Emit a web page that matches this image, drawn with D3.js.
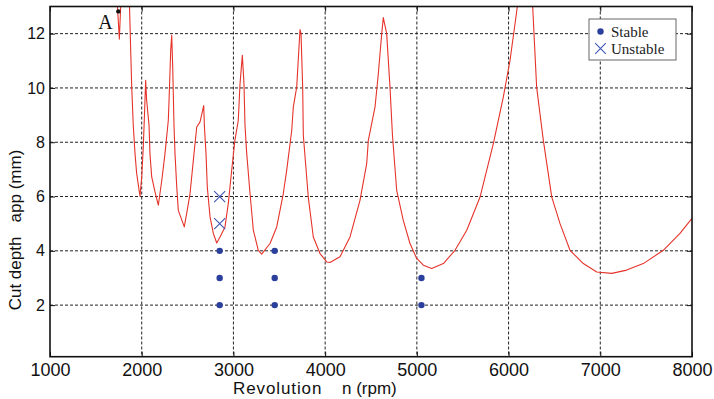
<!DOCTYPE html>
<html>
<head>
<meta charset="utf-8">
<script src="https://cdn.jsdelivr.net/npm/d3@7"></script>
<style>
body { margin: 0; background: #fff; }
svg { display: block; }
</style>
</head>
<body>
<svg id="chart"></svg>
<script>
// stability lobe curve (rpm, cut depth mm)
var lobeRpm = [1725, 1756, 1778, 1862, 1880, 1891, 1908, 1927, 1945, 1981,
    2000, 2017, 2028, 2043, 2054, 2080, 2090, 2109, 2145, 2181,
    2219, 2254, 2290, 2298, 2316, 2327, 2338, 2352, 2363, 2382,
    2399, 2464, 2490, 2527, 2563, 2600, 2636, 2676, 2683, 2701,
    2715, 2745, 2781, 2818, 2854, 2908, 2944, 2981, 3017, 3053,
    3072, 3097, 3115, 3126, 3145, 3181, 3217, 3271, 3308, 3399,
    3472, 3544, 3581, 3636, 3653, 3690, 3726, 3737, 3755, 3762,
    3816, 3871, 3944, 4017, 4053, 4162, 4271, 4380, 4453, 4471,
    4544, 4580, 4617, 4634, 4671, 4707, 4734, 4780, 4852, 4925,
    4998, 5071, 5162, 5289, 5416, 5544, 5689, 5834, 5943, 6016,
    6095, 6170, 6263, 6306, 6379, 6471, 6561, 6670, 6815, 6961,
    7125, 7288, 7469, 7687, 7869, 8000];
var lobeDepth = [13.6, 11.8, 13.6, 13.6, 11.38, 10.03, 8.62, 7.58, 6.85, 6.01,
    6.72, 7.82, 8.81, 10.28, 9.54, 8.62, 7.58, 6.72, 6.17, 5.68,
    6.60, 7.58, 8.81, 9.54, 11.38, 11.94, 10.77, 8.62, 7.58, 6.35,
    5.49, 4.88, 5.37, 6.11, 7.34, 8.56, 8.75, 9.35, 8.62, 7.58,
    6.35, 5.25, 4.64, 4.29, 4.51, 4.88, 5.74, 6.97, 8.09, 8.81,
    10.16, 11.2, 10.16, 8.62, 7.58, 6.11, 4.76, 4.02, 3.88, 4.27,
    4.88, 6.11, 6.97, 8.44, 9.30, 10.03, 12.15, 12.01, 10.03, 8.26,
    5.98, 4.51, 3.90, 3.59, 3.57, 3.78, 4.51, 5.86, 7.21, 8.07,
    9.30, 10.53, 12.0, 12.59, 12.0, 10.03, 8.26, 6.23, 5.12, 4.27,
    3.72, 3.47, 3.35, 3.53, 4.02, 4.76, 5.98, 7.95, 9.67, 11.02,
    12.98, 14.5, 12.98, 10.03, 8.07, 5.98, 5.0, 4.02, 3.53, 3.22,
    3.17, 3.29, 3.53, 4.02, 4.64, 5.2];

var stableRpm = [2850, 2850, 2850, 3450, 3450, 3450, 5050, 5050];
var stableDepth = [2, 3, 4, 2, 3, 4, 2, 3];
var unstableRpm = [2850, 2850];
var unstableDepth = [5, 6];

var pointA = [1745, 12.82];

var xTicks = [1000, 2000, 3000, 4000, 5000, 6000, 7000, 8000];
var yTicks = [2, 4, 6, 8, 10, 12];
var xDomain = [1000, 8000];
var yDomain = [0.1, 13];

var svgWidth = 714,
    svgHeight = 399,
    plotLeft = 50,
    plotRight = 692,
    plotTop = 6.5,
    plotBottom = 356.7,
    plotW = plotRight - plotLeft,
    plotH = plotBottom - plotTop;

var sansFont = '"Liberation Sans", Arial, Helvetica, sans-serif';
var serifFont = '"Liberation Serif", "Times New Roman", serif';

var svg = d3.select('svg#chart')
    .attr('width', svgWidth)
    .attr('height', svgHeight);

var x = d3.scaleLinear().domain(xDomain).range([0, plotW]);
var y = d3.scaleLinear().domain(yDomain).range([plotH, 0]);

var plot = svg.append('g').attr('transform', 'translate(' + plotLeft + ',' + plotTop + ')');

svg.append('clipPath').attr('id', 'plotClip')
    .append('rect')
    .attr('width', plotW)
    .attr('height', plotH);

// dashed grid
plot.append('g').selectAll('line')
    .data(xTicks.slice(1, -1))
    .enter().append('line')
    .attr('x1', function (d) { return x(d); })
    .attr('x2', function (d) { return x(d); })
    .attr('y1', 0)
    .attr('y2', plotH)
    .attr('stroke', '#222')
    .attr('stroke-width', 1)
    .attr('stroke-dasharray', '3,2');

plot.append('g').selectAll('line')
    .data(yTicks)
    .enter().append('line')
    .attr('x1', 0)
    .attr('x2', plotW)
    .attr('y1', function (d) { return y(d); })
    .attr('y2', function (d) { return y(d); })
    .attr('stroke', '#222')
    .attr('stroke-width', 1)
    .attr('stroke-dasharray', '3,2');

// lobe curve
var lobePoints = lobeRpm.map(function (r, i) { return [r, lobeDepth[i]]; });
var line = d3.line()
    .x(function (d) { return x(d[0]); })
    .y(function (d) { return y(d[1]); });

plot.append('path')
    .datum(lobePoints)
    .attr('clip-path', 'url(#plotClip)')
    .attr('d', line)
    .attr('fill', 'none')
    .attr('stroke', '#e5332a')
    .attr('stroke-width', 1.1)
    .attr('stroke-linejoin', 'round');

// test points
plot.append('g').selectAll('circle')
    .data(stableRpm)
    .enter().append('circle')
    .attr('cx', function (d) { return x(d); })
    .attr('cy', function (d, i) { return y(stableDepth[i]); })
    .attr('r', 3.2)
    .attr('fill', '#2b3f9c');

var xMark = 5.5;
unstableRpm.forEach(function (r, i) {
    drawCross(plot, x(r), y(unstableDepth[i]), xMark);
});

function drawCross(g, cx, cy, s) {
    g.append('path')
        .attr('d', 'M' + (cx - s) + ',' + (cy - s) + 'L' + (cx + s) + ',' + (cy + s) +
            'M' + (cx - s) + ',' + (cy + s) + 'L' + (cx + s) + ',' + (cy - s))
        .attr('stroke', '#3f55b5')
        .attr('stroke-width', 1.1)
        .attr('fill', 'none');
}

// point A
plot.append('circle')
    .attr('cx', x(pointA[0]))
    .attr('cy', y(pointA[1]))
    .attr('r', 2.2)
    .attr('fill', '#111');
plot.append('text')
    .attr('x', x(pointA[0]) - 20)
    .attr('y', y(pointA[1]) + 17.5)
    .attr('font-family', serifFont)
    .attr('font-size', 20)
    .attr('fill', '#111')
    .text('A');

// axes with inward ticks
var xAxis = plot.append('g')
    .attr('transform', 'translate(0,' + plotH + ')')
    .call(d3.axisBottom(x).tickValues(xTicks).tickSize(-5).tickPadding(7).tickFormat(d3.format('d')));
xAxis.selectAll('text')
    .attr('font-family', sansFont)
    .attr('font-size', 18)
    .attr('fill', '#111');

var yAxis = plot.append('g')
    .call(d3.axisLeft(y).tickValues(yTicks).tickSize(-5).tickPadding(5));
yAxis.selectAll('text')
    .attr('font-family', sansFont)
    .attr('font-size', 16)
    .attr('fill', '#111');

plot.append('g')
    .attr('transform', 'translate(' + plotW + ',0)')
    .call(d3.axisRight(y).tickValues(yTicks).tickSize(-5).tickFormat(''));
plot.append('g')
    .call(d3.axisTop(x).tickValues(xTicks).tickSize(-5).tickFormat(''));

plot.selectAll('.domain').remove();
plot.selectAll('.tick line').attr('stroke', '#111');

plot.append('rect')
    .attr('width', plotW)
    .attr('height', plotH)
    .attr('fill', 'none')
    .attr('stroke', '#111')
    .attr('stroke-width', 1.6);

// axis titles
svg.append('text')
    .attr('x', 233)
    .attr('y', 394)
    .attr('font-family', sansFont)
    .attr('font-size', 17)
    .attr('letter-spacing', 0.9)
    .attr('fill', '#111')
    .text('Revolution');
svg.append('text')
    .attr('x', 342)
    .attr('y', 394)
    .attr('font-family', sansFont)
    .attr('font-size', 17)
    .attr('fill', '#111')
    .text('n (rpm)');

svg.append('text')
    .attr('transform', 'translate(21,230) rotate(-90)')
    .attr('text-anchor', 'middle')
    .attr('font-family', sansFont)
    .attr('font-size', 17)
    .attr('fill', '#111')
    .style('white-space', 'pre')
    .text('Cut depth   app (mm)');

// legend
var legend = svg.append('g').attr('transform', 'translate(589,19)');
legend.append('rect')
    .attr('width', 87)
    .attr('height', 41)
    .attr('fill', '#fff')
    .attr('stroke', '#666')
    .attr('stroke-width', 1);
legend.append('circle')
    .attr('cx', 11.5)
    .attr('cy', 12.5)
    .attr('r', 3.2)
    .attr('fill', '#2b3f9c');
drawCross(legend, 11.5, 29.5, 5.3);
legend.append('text')
    .attr('x', 22)
    .attr('y', 17.5)
    .attr('font-family', serifFont)
    .attr('font-size', 15)
    .attr('fill', '#222')
    .text('Stable');
legend.append('text')
    .attr('x', 22)
    .attr('y', 34.5)
    .attr('font-family', serifFont)
    .attr('font-size', 15)
    .attr('fill', '#222')
    .text('Unstable');
</script>
</body>
</html>
